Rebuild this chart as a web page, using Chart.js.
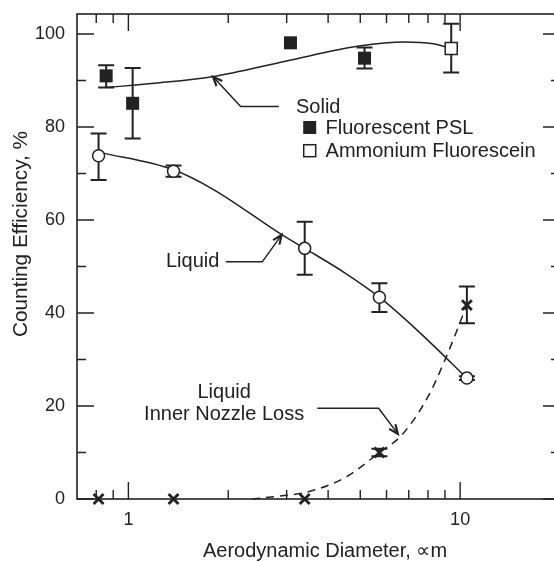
<!DOCTYPE html>
<html>
<head>
<meta charset="utf-8">
<script src="https://cdn.jsdelivr.net/npm/chart.js@4.4.0/dist/chart.umd.min.js"></script>
<style>
  html, body { margin: 0; padding: 0; background: #fff; overflow: hidden; }
  #wrap { width: 554px; height: 562px; overflow: hidden; }
</style>
</head>
<body>
<div id="wrap"><canvas id="chart" width="570" height="562"></canvas></div>
<script>
// measured points (aerodynamic diameter, um / counting efficiency, %)
const pslX = [0.857, 1.03, 3.08, 5.15];
const pslY = [91.0, 85.1, 98.1, 94.8];
const pslLo = [88.5, 77.5, 98.1, 92.6];
const pslHi = [93.3, 92.7, 98.1, 97.1];

const afX = [9.4];
const afY = [96.9];
const afLo = [91.7];
const afHi = [102.2];

const liquidX = [0.813, 1.368, 3.40, 5.71, 10.48];
const liquidY = [73.8, 70.5, 53.9, 43.4, 26.0];
const liquidLo = [68.6, 69.3, 48.2, 40.2, 25.6];
const liquidHi = [78.6, 71.7, 59.6, 46.4, 26.4];

const nozzleX = [0.813, 1.368, 3.40, 5.71, 10.48];
const nozzleY = [0, 0, 0, 10.0, 41.7];
const nozzleLo = [0, 0, 0, 9.2, 37.8];
const nozzleHi = [0, 0, 0, 10.8, 45.7];

// fitted curves
const solidCurveX = [0.857, 1.2, 1.79, 3.0, 4.95, 6.8, 8.3, 9.4];
const solidCurveY = [88.5, 89.4, 90.8, 94.2, 97.4, 98.3, 97.9, 96.9];
const liquidCurveX = [0.813, 1.368, 1.8, 2.906, 3.4, 4.5, 5.71, 7.5, 10.48];
const liquidCurveY = [74.6, 70.8, 66.6, 56.8, 53.9, 48.6, 43.4, 36.0, 26.0];
const nozzleCurveX = [2.36, 3.0, 3.42, 4.5, 5.71, 6.68, 8.0, 9.0, 10.48];
const nozzleCurveY = [0, 0.8, 1.4, 4.6, 10.0, 13.8, 22.0, 29.9, 41.7];

// axes
const xTickLabels = [1, 10];
const xMinorTicks = [0.8, 0.9, 2, 3, 4, 5, 6, 7, 8, 9, 20];
const yTickLabels = [0, 20, 40, 60, 80, 100];
const yMinorTicks = [10, 30, 50, 70, 90];

const ink = "#222";
const font = "'Liberation Sans', Arial, Helvetica, sans-serif";

function pts(xs, ys) {
  return xs.map((x, i) => ({ x: x, y: ys[i] }));
}

// error bars for the point datasets
const bars = [
  { xs: pslX, lo: pslLo, hi: pslHi },
  { xs: afX, lo: afLo, hi: afHi },
  { xs: liquidX, lo: liquidLo, hi: liquidHi },
  { xs: nozzleX, lo: nozzleLo, hi: nozzleHi }
];

// text labels with leader arrows, in data coordinates
const notes = [
  { lines: ["Solid"], x: 3.2, y: 84.3, align: "left",
    arrow: [[2.84, 84.4], [2.18, 84.4], [1.80, 90.8]] },
  { lines: ["Liquid"], x: 1.298, y: 51.0, align: "left",
    arrow: [[1.967, 51.0], [2.533, 51.0], [2.897, 56.8]] },
  { lines: ["Liquid", "Inner Nozzle Loss"], x: 1.944, y: 22.9, align: "center",
    arrow: [[3.71, 19.5], [5.68, 19.5], [6.49, 14.0]] }
];

const decorations = {
  id: "decorations",
  beforeDatasetsDraw(chart) {
    const ctx = chart.ctx;
    const xs = chart.scales.x, ys = chart.scales.y;
    ctx.save();
    ctx.strokeStyle = ink;
    ctx.lineWidth = 2;
    bars.forEach(b => {
      b.xs.forEach((x, i) => {
        if (b.hi[i] === b.lo[i]) return;
        const px = xs.getPixelForValue(x);
        const top = ys.getPixelForValue(b.hi[i]);
        const bot = ys.getPixelForValue(b.lo[i]);
        ctx.beginPath();
        ctx.moveTo(px, top); ctx.lineTo(px, bot);
        ctx.moveTo(px - 8, top); ctx.lineTo(px + 8, top);
        ctx.moveTo(px - 8, bot); ctx.lineTo(px + 8, bot);
        ctx.stroke();
      });
    });
    ctx.restore();
  },
  afterDraw(chart) {
    const ctx = chart.ctx;
    const a = chart.chartArea;
    const xs = chart.scales.x, ys = chart.scales.y;
    ctx.save();
    ctx.strokeStyle = ink;
    ctx.fillStyle = ink;

    // frame and inward ticks on all four sides
    ctx.lineWidth = 1.6;
    ctx.strokeRect(a.left, a.top, a.right - a.left, a.bottom - a.top);
    ctx.lineWidth = 1.4;
    ctx.beginPath();
    const yTick = (v, len) => {
      const py = ys.getPixelForValue(v);
      ctx.moveTo(a.left, py); ctx.lineTo(a.left + len, py);
      ctx.moveTo(a.right, py); ctx.lineTo(a.right - len, py);
    };
    const xTick = (v, len) => {
      const px = xs.getPixelForValue(v);
      ctx.moveTo(px, a.bottom); ctx.lineTo(px, a.bottom - len);
      ctx.moveTo(px, a.top); ctx.lineTo(px, a.top + len);
    };
    yTickLabels.forEach(v => yTick(v, 17));
    yMinorTicks.forEach(v => yTick(v, 9));
    xTickLabels.forEach(v => xTick(v, 17));
    xMinorTicks.forEach(v => xTick(v, 9));
    ctx.stroke();

    // axis titles
    ctx.textAlign = "center";
    ctx.textBaseline = "middle";
    ctx.font = "20px " + font;
    ctx.fillText("Aerodynamic Diameter, \u221dm", 325, 551);
    ctx.save();
    ctx.font = "20.8px " + font;
    ctx.translate(21, 234);
    ctx.rotate(-Math.PI / 2);
    ctx.fillText("Counting Efficiency, %", 0, 0);
    ctx.restore();

    // annotations
    ctx.font = "20px " + font;
    notes.forEach(n => {
      const px = xs.getPixelForValue(n.x);
      const py = ys.getPixelForValue(n.y);
      ctx.textAlign = n.align;
      n.lines.forEach((t, i) => ctx.fillText(t, px, py + i * 21.5));
      const p = n.arrow.map(q => [xs.getPixelForValue(q[0]), ys.getPixelForValue(q[1])]);
      ctx.lineWidth = 1.5;
      ctx.beginPath();
      ctx.moveTo(p[0][0], p[0][1]);
      for (let i = 1; i < p.length; i++) ctx.lineTo(p[i][0], p[i][1]);
      ctx.stroke();
      const tip = p[p.length - 1], from = p[p.length - 2];
      const ang = Math.atan2(tip[1] - from[1], tip[0] - from[0]);
      ctx.lineWidth = 2.2;
      ctx.beginPath();
      ctx.moveTo(tip[0] - 10 * Math.cos(ang - 0.4), tip[1] - 10 * Math.sin(ang - 0.4));
      ctx.lineTo(tip[0], tip[1]);
      ctx.lineTo(tip[0] - 10 * Math.cos(ang + 0.4), tip[1] - 10 * Math.sin(ang + 0.4));
      ctx.stroke();
    });

    // legend for the solid particles
    const lx = xs.getPixelForValue(3.52);
    const ly1 = ys.getPixelForValue(79.9);
    const ly2 = ys.getPixelForValue(74.9);
    ctx.fillRect(lx - 6.5, ly1 - 6.5, 13, 13);
    ctx.lineWidth = 1.5;
    ctx.strokeRect(lx - 6, ly2 - 6, 12, 12);
    ctx.textAlign = "left";
    const tx = xs.getPixelForValue(3.93);
    ctx.fillText("Fluorescent PSL", tx, ly1 + 1);
    ctx.fillText("Ammonium Fluorescein", tx, ly2 + 1);
    ctx.restore();
  }
};

new Chart(document.getElementById("chart"), {
  type: "scatter",
  data: {
    datasets: [
      { data: pts(pslX, pslY), pointStyle: "rect", pointRadius: 9.2,
        backgroundColor: ink, borderColor: ink, borderWidth: 0, clip: false },
      { data: pts(afX, afY), pointStyle: "rect", pointRadius: 8.5,
        backgroundColor: "#fff", borderColor: ink, borderWidth: 1.5, clip: false },
      { data: pts(liquidX, liquidY), pointStyle: "circle", pointRadius: 6,
        backgroundColor: "#fff", borderColor: ink, borderWidth: 1.5, clip: false },
      { data: pts(nozzleX, nozzleY), pointStyle: "crossRot", pointRadius: 7,
        borderColor: ink, borderWidth: 2.8, clip: false },
      { type: "line", data: pts(solidCurveX, solidCurveY), showLine: true, pointRadius: 0,
        borderColor: ink, borderWidth: 1.5, cubicInterpolationMode: "monotone", clip: false },
      { type: "line", data: pts(liquidCurveX, liquidCurveY), showLine: true, pointRadius: 0,
        borderColor: ink, borderWidth: 1.5, cubicInterpolationMode: "monotone", clip: false },
      { type: "line", data: pts(nozzleCurveX, nozzleCurveY), showLine: true, pointRadius: 0,
        borderColor: ink, borderWidth: 1.5, borderDash: [8, 6], cubicInterpolationMode: "monotone", clip: false }
    ]
  },
  options: {
    responsive: false,
    animation: false,
    layout: { padding: { left: 35, top: 14, right: 8.2, bottom: 35 } },
    plugins: { legend: { display: false }, tooltip: { enabled: false } },
    scales: {
      x: {
        type: "logarithmic",
        min: 0.7,
        max: 20,
        grid: { display: false, drawTicks: false },
        border: { display: false },
        afterBuildTicks: axis => { axis.ticks = xTickLabels.map(v => ({ value: v })); },
        afterFit: s => { s.height = 28; s.paddingLeft = 0; s.paddingRight = 0; },
        ticks: { color: ink, padding: 10, font: { size: 18, family: font },
          callback: v => String(v), maxRotation: 0 }
      },
      y: {
        min: 0,
        max: 104.3,
        grid: { display: false, drawTicks: false },
        border: { display: false },
        afterBuildTicks: axis => { axis.ticks = yTickLabels.map(v => ({ value: v })); },
        afterFit: s => { s.width = 42; s.paddingTop = 0; s.paddingBottom = 0; },
        ticks: { color: ink, padding: 12, font: { size: 18, family: font } }
      }
    }
  },
  plugins: [decorations]
});
</script>
</body>
</html>
